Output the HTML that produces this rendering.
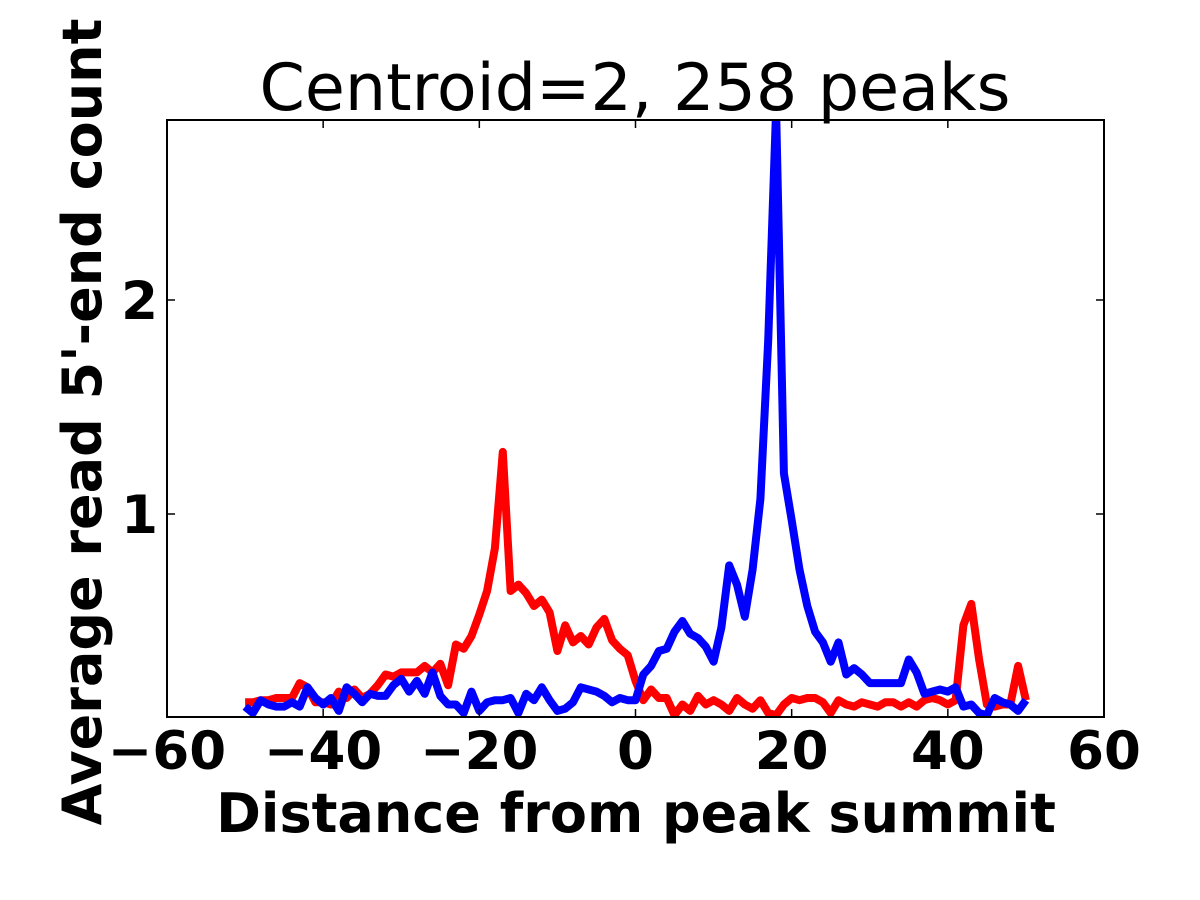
<!DOCTYPE html>
<html><head><meta charset="utf-8"><style>
html,body{margin:0;padding:0;background:#fff;}
svg{display:block;font-family:"DejaVu Sans","Liberation Sans",sans-serif;}
</style></head><body>
<svg id="chart" width="1200" height="900" viewBox="0 0 1200 900">
<defs><clipPath id="clip"><rect x="167" y="120" width="937" height="597"/></clipPath></defs>
<text x="635" y="110" font-size="65" text-anchor="middle">Centroid=2, 258 peaks</text>
<g id="series" clip-path="url(#clip)"></g>
<rect x="167" y="120" width="937" height="597" fill="none" stroke="#000" stroke-width="2"/>
<g id="ticks"></g>
<text x="636" y="832" font-size="54" font-weight="bold" text-anchor="middle">Distance from peak summit</text>
<text transform="translate(101,422) rotate(-90)" font-size="54" font-weight="bold" text-anchor="middle">Average read 5'-end count</text>
</svg>
<script>
const xTicks = [-60,-40,-20,0,20,40,60];
const xTickLabels = ["\u221260","\u221240","\u221220","0","20","40","60"];
const yTicks = [1,2];
const yTickLabels = ["1","2"];
const positions = [];
for (let d=-50; d<=50; d++) positions.push(d);
const redValues = [.12,.12,.13,.13,.14,.14,.14,.21,.19,.12,
.12,.11,.17,.14,.18,.14,.16,.20,.25,.24,
.26,.26,.26,.29,.26,.30,.20,.39,.37,.43,
.53,.64,.84,1.29,.64,.67,.63,.57,.60,.54,
.36,.48,.40,.43,.39,.47,.51,.41,.37,.34,
.22,
.13,.18,.14,.14,.06,.11,.08,.15,.11,.13,
.11,.08,.14,.11,.09,.13,.07,.06,.11,.14,
.13,.14,.14,.12,.07,.13,.11,.10,.12,.11,
.10,.12,.12,.10,.12,.10,.13,.14,.13,.11,
.13,.48,.58,.32,.11,.10,.11,.11,.29,.13];
const blueValues = [.10,.07,.13,.11,.10,.10,.12,.10,.19,.14,
.11,.14,.08,.19,.16,.12,.16,.15,.15,.20,
.23,.17,.22,.16,.26,.15,.11,.11,.07,.17,
.08,.12,.13,.13,.14,.07,.16,.13,.19,.13,
.08,.09,.12,.19,.18,.17,.15,.12,.14,.13,
.13,
.25,.29,.36,.37,.45,.50,.44,.42,.38,.31,
.47,.76,.67,.52,.74,1.07,1.81,2.89,1.19,.97,
.74,.57,.45,.40,.31,.40,.25,.28,.25,.21,
.21,.21,.21,.21,.32,.26,.16,.17,.18,.17,
.19,.10,.11,.07,.06,.14,.12,.11,.08,.13];
const X0=167,X1=1104,Y0=717,Y1=120;
const xMin=-60,xMax=60,yMin=0.0514,yMax=2.841;
function sx(v){return X0+(v-xMin)/(xMax-xMin)*(X1-X0);}
function sy(v){return Y0-(v-yMin)/(yMax-yMin)*(Y0-Y1);}
const NS="http://www.w3.org/2000/svg";
const g=document.getElementById('series');
function line(vals,color,name){
  const p=document.createElementNS(NS,'polyline');
  p.setAttribute('points',positions.map((d,i)=>sx(d).toFixed(1)+','+sy(vals[i]).toFixed(1)).join(' '));
  p.setAttribute('fill','none');p.setAttribute('stroke',color);
  p.setAttribute('stroke-width','8');p.setAttribute('stroke-linejoin','round');
  
  
  g.appendChild(p);
}
line(redValues,'#ff0000','red-series-line');
line(blueValues,'#0000ff','blue-series-line');
const t=document.getElementById('ticks');
function mk(tag,attrs){const e=document.createElementNS(NS,tag);for(const k in attrs)e.setAttribute(k,attrs[k]);t.appendChild(e);return e;}
xTicks.forEach((v,i)=>{
  const x=sx(v);
  const a=mk('line',{x1:x,x2:x,y1:Y0,y2:Y0-8,stroke:'#000','stroke-width':1.5});
  
  
  const b=mk('line',{x1:x,x2:x,y1:Y1,y2:Y1+8,stroke:'#000','stroke-width':1.5});
  
  
  const l=mk('text',{x:x,y:769,'font-size':53,'font-weight':'bold','text-anchor':'middle'});
  l.textContent=xTickLabels[i];
  
  
});
yTicks.forEach((v,i)=>{
  const y=sy(v);
  const a=mk('line',{x1:X0,x2:X0+8,y1:y,y2:y,stroke:'#000','stroke-width':1.5});
  
  
  const b=mk('line',{x1:X1,x2:X1-8,y1:y,y2:y,stroke:'#000','stroke-width':1.5});
  
  
  const l=mk('text',{x:158,y:y+19,'font-size':53,'font-weight':'bold','text-anchor':'end'});
  l.textContent=yTickLabels[i];
  
  
});
</script>
</body></html>
